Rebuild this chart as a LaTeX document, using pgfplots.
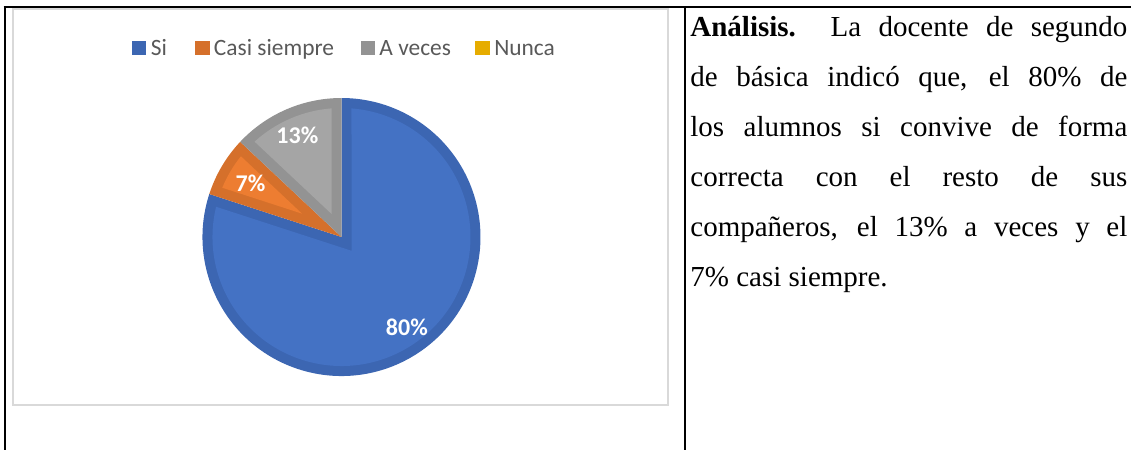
\documentclass[border=0pt]{standalone}
\usepackage{pgfplots}
\pgfplotsset{compat=1.18}
\usepackage{pgfplotstable}
\usepackage{fontspec}
\setmainfont{Liberation Serif}
\newfontfamily\carlito{Carlito}
\definecolor{bluelt}{HTML}{4472C4}
\definecolor{bluedk}{HTML}{3C66B2}
\definecolor{orlt}{HTML}{ED7D31}
\definecolor{ordk}{HTML}{D5702B}
\definecolor{grlt}{HTML}{A5A5A5}
\definecolor{grdk}{HTML}{939393}
\definecolor{yedk}{HTML}{E6AC00}
\definecolor{legtext}{HTML}{595959}
\definecolor{framegray}{HTML}{D9D9D9}

\pgfplotstableread{
cat value
Si 80
CasiSiempre 7
AVeces 13
Nunca 0
}\piedata

\begin{document}
\begin{tikzpicture}
\useasboundingbox (0,0) rectangle (565.5pt,225pt);
\pgfplotstablegetelem{0}{value}\of\piedata \edef\vA{\pgfplotsretval}
\pgfplotstablegetelem{1}{value}\of\piedata \edef\vB{\pgfplotsretval}
\pgfplotstablegetelem{2}{value}\of\piedata \edef\vC{\pgfplotsretval}
\def\rad{139}\def\bev{10}
\pgfmathsetmacro\rin{\rad-\bev}
\pgfmathsetmacro\radpt{\rad*0.5}
\pgfmathsetmacro\rinpt{\rin*0.5}
\pgfmathsetmacro\del{asin(\bev/\rin)}
% slices run clockwise from 12 o'clock
\pgfmathsetmacro\angA{90}
\pgfmathsetmacro\angB{\angA-3.6*\vA}
\pgfmathsetmacro\angC{\angB-3.6*\vB}
\pgfmathsetmacro\angD{\angC-3.6*\vC}
% Si : \angB .. \angA
\pgfmathsetmacro\midA{(\angA+\angB)/2}\pgfmathsetmacro\halfA{(\angA-\angB)/2}
\pgfmathsetmacro\dA{\bev/sin(\halfA)}
\pgfmathsetmacro\pxA{\dA*cos(\midA)}\pgfmathsetmacro\pyA{\dA*sin(\midA)}
\pgfmathsetmacro\sA{\angB+\del}\pgfmathsetmacro\eA{\angA-\del}
% Casi siempre : \angC .. \angB
\pgfmathsetmacro\midB{(\angB+\angC)/2}\pgfmathsetmacro\halfB{(\angB-\angC)/2}
\pgfmathsetmacro\dB{\bev/sin(\halfB)}
\pgfmathsetmacro\pxB{\dB*cos(\midB)}\pgfmathsetmacro\pyB{\dB*sin(\midB)}
\pgfmathsetmacro\sB{\angC+\del}\pgfmathsetmacro\eB{\angB-\del}
% A veces : \angD .. \angC
\pgfmathsetmacro\midC{(\angC+\angD)/2}\pgfmathsetmacro\halfC{(\angC-\angD)/2}
\pgfmathsetmacro\dC{\bev/sin(\halfC)}
\pgfmathsetmacro\pxC{\dC*cos(\midC)}\pgfmathsetmacro\pyC{\dC*sin(\midC)}
\pgfmathsetmacro\sC{\angD+\del}\pgfmathsetmacro\eC{\angC-\del}

\begin{scope}[x=0.5pt,y=-0.5pt,yshift=225pt]
\draw[framegray,line width=1pt] (13,9.5) rectangle (667.5,405);
\draw[black,line width=1.1pt] (3.5,7) -- (1131,7);
\draw[black,line width=1.1pt] (5,6.5) -- (5,450);
\draw[black,line width=1.1pt] (685,6.5) -- (685,450);
\node[anchor=base west,inner sep=0pt] at (690,37) {\parbox[t]{218.5pt}{%
\fontsize{14.5}{25}\selectfont\tolerance=10000\hyphenpenalty=10000\hbadness=10000
\textbf{Análisis.}\ \ La docente de segundo\linebreak
de básica indicó que, el 80\% de\linebreak
los alumnos si convive de forma\linebreak
correcta con el resto de sus\linebreak
compañeros, el 13\% a veces y el\linebreak
7\% casi siempre.}};
\end{scope}

\begin{axis}[
  at={(170.75pt,106.5pt)}, anchor=origin,
  x=0.5pt, y=0.5pt,
  xmin=-150, xmax=150, ymin=-150, ymax=150,
  hide axis, clip=false,
  legend columns=4,
  legend cell align=left,
  legend image code/.code={\fill[#1,draw=none] (0pt,-3.6pt) rectangle (7.2pt,3.6pt);},
  legend style={draw=none, fill=none, inner sep=0pt, outer sep=0pt,
    at={(-0.19833,1.13)}, anchor=west,
    font=\carlito\fontsize{11.7}{14}\selectfont,
    nodes={inner sep=0pt, text=legtext, text height=7.2pt, text depth=0pt},
    /tikz/column 1/.style={column sep=2.2pt},
    /tikz/column 3/.style={column sep=2.2pt},
    /tikz/column 5/.style={column sep=2.2pt},
    /tikz/column 7/.style={column sep=2.2pt},
    /tikz/column 2/.style={column sep=14.1pt},
    /tikz/column 4/.style={column sep=13.3pt},
    /tikz/column 6/.style={column sep=12.25pt}},
]
\addlegendimage{bluedk}\addlegendentry{Si}
\addlegendimage{ordk}\addlegendentry{Casi siempre}
\addlegendimage{grdk}\addlegendentry{A veces}
\addlegendimage{yedk}\addlegendentry{Nunca}
% Si
\fill[bluedk] (axis cs:0,0) -- (axis cs:{\rad*cos(\angB)},{\rad*sin(\angB)}) arc[start angle=\angB,end angle=\angA,radius=\radpt pt] -- cycle;
\fill[bluelt] (axis cs:\pxA,\pyA) -- (axis cs:{\rin*cos(\sA)},{\rin*sin(\sA)}) arc[start angle=\sA,end angle=\eA,radius=\rinpt pt] -- cycle;
% Casi siempre
\fill[ordk] (axis cs:0,0) -- (axis cs:{\rad*cos(\angC)},{\rad*sin(\angC)}) arc[start angle=\angC,end angle=\angB,radius=\radpt pt] -- cycle;
\fill[orlt] (axis cs:\pxB,\pyB) -- (axis cs:{\rin*cos(\sB)},{\rin*sin(\sB)}) arc[start angle=\sB,end angle=\eB,radius=\rinpt pt] -- cycle;
% A veces
\fill[grdk] (axis cs:0,0) -- (axis cs:{\rad*cos(\angD)},{\rad*sin(\angD)}) arc[start angle=\angD,end angle=\angC,radius=\radpt pt] -- cycle;
\fill[grlt] (axis cs:\pxC,\pyC) -- (axis cs:{\rin*cos(\sC)},{\rin*sin(\sC)}) arc[start angle=\sC,end angle=\eC,radius=\rinpt pt] -- cycle;
% labels
\node[text=white,font=\carlito\bfseries\fontsize{12}{12}\selectfont] at (axis cs:{0.8*\rad*cos(\midA)},{0.8*\rad*sin(\midA)}) {\vA\%};
\node[text=white,font=\carlito\bfseries\fontsize{12}{12}\selectfont] at (axis cs:{0.76*\rad*cos(\midB)},{0.76*\rad*sin(\midB)}) {\vB\%};
\node[text=white,font=\carlito\bfseries\fontsize{12}{12}\selectfont] at (axis cs:{0.8*\rad*cos(\midC)},{0.8*\rad*sin(\midC)}) {\vC\%};
\end{axis}
\end{tikzpicture}
\end{document}
